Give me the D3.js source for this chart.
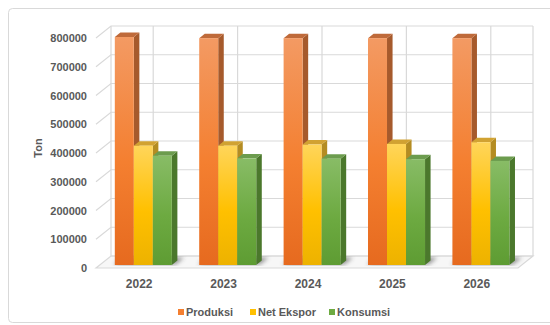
<!DOCTYPE html>
<html>
<head>
<meta charset="utf-8">
<script src="https://cdn.jsdelivr.net/npm/d3@7"></script>
<style>
  body { margin: 0; background: #fff; }
  text { font-family: "Liberation Sans", Arial, sans-serif; font-weight: bold; fill: #595959; }
</style>
</head>
<body>
<div id="chart"></div>
<script>
// data
const years = ['2022', '2023', '2024', '2025', '2026'];
const series = ['Produksi', 'Net Ekspor', 'Konsumsi'];
const produksi = [793000, 789000, 789000, 789000, 789000];
const netEkspor = [415000, 415000, 419000, 421000, 427000];
const konsumsi = [380000, 371000, 370000, 368000, 362000];
const yTicks = [0, 100000, 200000, 300000, 400000, 500000, 600000, 700000, 800000];

const values = [produksi, netEkspor, konsumsi];

const W = 550, H = 325;
// oblique depth offset of the 3d box
const DX = 15, DY = -12;
// bar depth, as a share of the floor depth
const zFront = 0.25, zBack = 0.62;

const colors = {
  Produksi: { top: '#F39A63', mid: '#F47F30', bot: '#E66A1F', side: '#A65A2C', cap: '#BF6A3A' },
  'Net Ekspor': { top: '#FFD55A', mid: '#FFC000', bot: '#EDB200', side: '#B48C22', cap: '#D1A232' },
  Konsumsi: { top: '#88BC66', mid: '#6DAA41', bot: '#5E9C33', side: '#4B782C', cap: '#6C9C4E' },
};

const svg = d3.select('#chart').append('svg').attr('width', W).attr('height', H);

const x = d3.scaleBand().domain(years).range([96, 518]);
const xs = d3.scaleBand().domain(series).range([0, x.bandwidth()]).paddingOuter(0.72).align(0.55);
const y = d3.scaleLinear().domain([0, 800000]).range([268, 38]);

// project a front-plane point back by depth z
const P = (px, v, z) => [px + z * DX, y(v) + z * DY];
const poly = (pts) => pts.map((p) => p.join(',')).join(' ');

// defs: gradients and shadow blur
const defs = svg.append('defs');
series.forEach((s, i) => {
  const g = defs.append('linearGradient').attr('id', `grad${i}`)
    .attr('x1', 0).attr('y1', 0).attr('x2', 0).attr('y2', 1);
  g.append('stop').attr('offset', '0%').attr('stop-color', colors[s].top);
  g.append('stop').attr('offset', '55%').attr('stop-color', colors[s].mid);
  g.append('stop').attr('offset', '100%').attr('stop-color', colors[s].bot);
});
defs.append('filter').attr('id', 'blur').append('feGaussianBlur').attr('stdDeviation', 2);

// chart frame
svg.append('rect').attr('x', 8.5).attr('y', 8.5).attr('width', 560).attr('height', 314)
  .attr('rx', 4).attr('fill', '#fff').attr('stroke', '#D9D9D9');

const grid = svg.append('g').attr('stroke', '#D9D9D9').attr('stroke-width', 1.2).attr('fill', 'none');
const x0 = x.range()[0], x1 = x.range()[1];

// floor
svg.insert('polygon', 'g')
  .attr('points', poly([P(x0, 0, 0), P(x1, 0, 0), P(x1, 0, 1), P(x0, 0, 1)]))
  .attr('fill', '#F7F7F7').attr('stroke', '#D9D9D9').attr('stroke-width', 1.2);

// horizontal gridlines on back wall and diagonals on left wall
yTicks.forEach((t) => {
  const a = P(x0, t, 0), b = P(x0, t, 1), c = P(x1, t, 1);
  grid.append('polyline').attr('points', poly(t === 0 ? [b, c] : [a, b, c]));
});
// back wall edges
grid.append('line').attr('x1', x0 + DX).attr('y1', y(0) + DY).attr('x2', x0 + DX).attr('y2', y(800000) + DY);
grid.append('line').attr('x1', x1 + DX).attr('y1', y(0) + DY).attr('x2', x1 + DX).attr('y2', y(800000) + DY);
// vertical gridlines at category centers
years.forEach((yr) => {
  const cx = x(yr) + x.bandwidth() / 2 + DX;
  grid.append('line').attr('x1', cx).attr('y1', y(0) + DY).attr('x2', cx).attr('y2', y(800000) + DY);
});

// bar shadows on the floor
const shadows = svg.append('g').attr('filter', 'url(#blur)').attr('opacity', 0.55);
years.forEach((yr) => {
  const l = x(yr) + xs(series[0]) - 2;
  const r = x(yr) + xs(series[2]) + xs.bandwidth() + 3;
  shadows.append('polygon')
    .attr('points', poly([P(l, 0, zFront + 0.05), P(r, 0, zFront + 0.05), P(r, 0, zBack + 0.25), P(l, 0, zBack + 0.25)]))
    .attr('fill', '#404040');
});

// bars, drawn left to right so later fronts cover earlier sides
const bars = svg.append('g');
years.forEach((yr, j) => {
  series.forEach((s, i) => {
    const v = values[i][j];
    const l = x(yr) + xs(s);
    const r = l + xs.bandwidth();
    const g = bars.append('g');
    g.append('polygon')
      .attr('points', poly([P(r, 0, zFront), P(r, 0, zBack), P(r, v, zBack), P(r, v, zFront)]))
      .attr('fill', colors[s].side);
    g.append('polygon')
      .attr('points', poly([P(l, v, zFront), P(r, v, zFront), P(r, v, zBack), P(l, v, zBack)]))
      .attr('fill', colors[s].cap);
    const f0 = P(l, v, zFront), f1 = P(r, 0, zFront);
    g.append('rect')
      .attr('x', f0[0]).attr('y', f0[1])
      .attr('width', f1[0] - f0[0]).attr('height', f1[1] - f0[1])
      .attr('fill', `url(#grad${i})`);
  });
});

// value labels
svg.append('g').selectAll('text').data(yTicks).join('text')
  .attr('x', 87).attr('y', (d) => y(d) + 4)
  .attr('text-anchor', 'end').attr('font-size', 11)
  .text((d) => d);

svg.append('text').attr('transform', 'translate(42,148) rotate(-90)')
  .attr('text-anchor', 'middle').attr('font-size', 11).text('Ton');

// category labels
svg.append('g').selectAll('text').data(years).join('text')
  .attr('x', (d) => x(d) + x.bandwidth() / 2 + 1).attr('y', 288)
  .attr('text-anchor', 'middle').attr('font-size', 12)
  .text((d) => d);

// legend
const legendX = [178, 250, 329];
const legend = svg.append('g').selectAll('g').data(series).join('g')
  .attr('transform', (d, i) => `translate(${legendX[i]},309)`);
legend.append('rect').attr('width', 6).attr('height', 6).attr('fill', (d) => colors[d].mid);
legend.append('text').attr('x', 8).attr('y', 7).attr('font-size', 11).text((d) => d);
</script>
</body>
</html>
